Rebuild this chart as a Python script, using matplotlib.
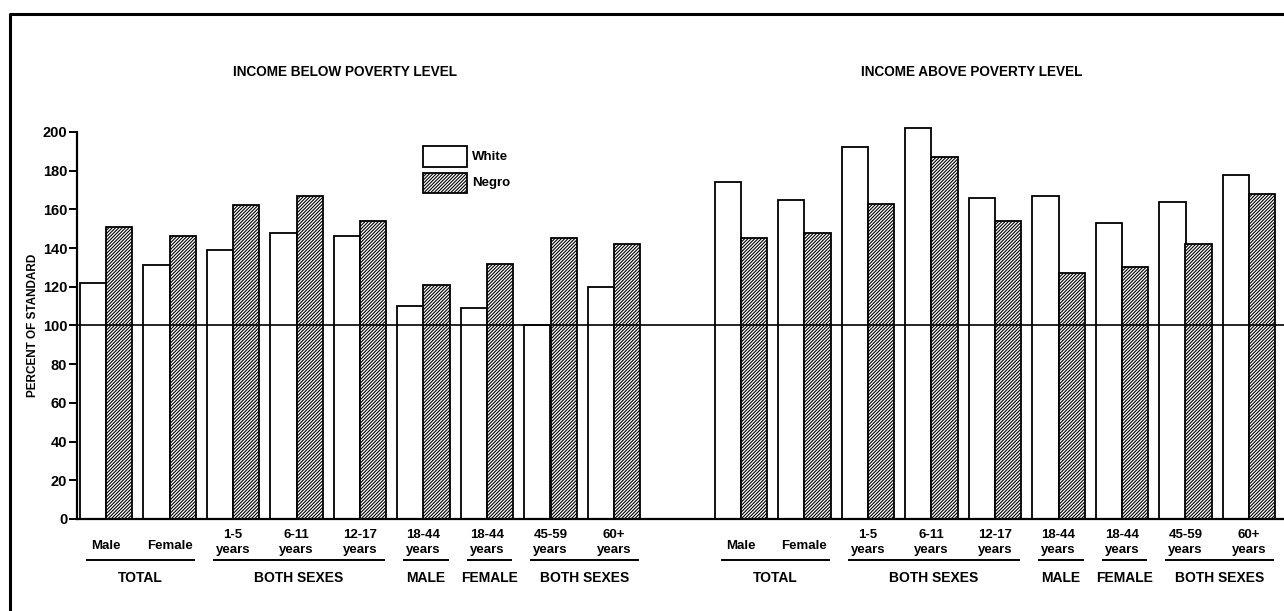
import matplotlib

matplotlib.use("Agg")
import matplotlib.pyplot as plt
import matplotlib.transforms as mtransforms
from matplotlib.patches import Rectangle
import numpy as np

plt.rcParams["font.family"] = ["Liberation Sans", "DejaVu Sans"]
plt.rcParams["hatch.linewidth"] = 0.8

W, H = 1284, 611

# data (percent of standard)
cat_line1 = ["Male", "Female", "1-5", "6-11", "12-17", "18-44", "18-44", "45-59", "60+"]
cat_line2 = ["", "", "years", "years", "years", "years", "years", "years", "years"]
groups = ["TOTAL", "BOTH SEXES", "MALE", "FEMALE", "BOTH SEXES"]
group_span = [(0, 1), (2, 4), (5, 5), (6, 6), (7, 8)]

below_white = [122, 131, 139, 148, 146, 110, 109, 100, 120]
below_negro = [151, 146, 162, 167, 154, 121, 132, 145, 142]
above_white = [174, 165, 192, 202, 166, 167, 153, 164, 178]
above_negro = [145, 148, 163, 187, 154, 127, 130, 142, 168]

panel_titles = ["INCOME BELOW POVERTY LEVEL", "INCOME ABOVE POVERTY LEVEL"]

HATCH = "//////////"


def px(x, y):
    return x / W, 1 - y / H


fig = plt.figure(figsize=(W / 100, H / 100), dpi=100)
fig.patch.set_facecolor("white")

ax_bottom = 1 - 519 / H
ax_top = 1 - 112.6 / H
ax = fig.add_axes([77 / W, ax_bottom, 1 - 77 / W, ax_top - ax_bottom])

unit = 63.5
x0 = -(106 - 77) / unit
ax.set_xlim(x0, x0 + (W - 77) / unit)
ax.set_ylim(0, 210)

bw = 0.41
offsets = [0, 10]
for off, white, negro in [(0, below_white, below_negro), (10, above_white, above_negro)]:
    xs = np.arange(len(white)) + off
    ax.bar(xs - bw, white, bw, align="edge", color="white", edgecolor="black", linewidth=1.3)
    ax.bar(xs, negro, bw, align="edge", color="white", edgecolor="black", linewidth=1.3, hatch=HATCH)

ax.axhline(100, color="black", linewidth=1.2)

for side in ["top", "right"]:
    ax.spines[side].set_visible(False)
ax.spines["left"].set_bounds(0, 200)
ax.spines["left"].set_linewidth(1.6)
ax.spines["bottom"].set_linewidth(1.6)
ax.set_yticks(range(0, 201, 20))
ax.tick_params(axis="y", direction="out", length=6, width=1.4, pad=1, labelsize=10.5)
for lab in ax.get_yticklabels():
    lab.set_fontweight("bold")
ax.set_xticks([])

fig.text(*px(33, 325), "PERCENT OF STANDARD", rotation=90, ha="center", va="center",
         fontsize=8.5, fontweight="bold")

trans = mtransforms.blended_transform_factory(ax.transData, fig.transFigure)
for off in offsets:
    for i in range(len(cat_line1)):
        if cat_line2[i]:
            ax.text(i + off, px(0, 535)[1], cat_line1[i], transform=trans, ha="center", va="center",
                    fontsize=9.5, fontweight="bold")
            ax.text(i + off, px(0, 550)[1], cat_line2[i], transform=trans, ha="center", va="center",
                    fontsize=9.5, fontweight="bold")
        else:
            ax.text(i + off, px(0, 546)[1], cat_line1[i], transform=trans, ha="center", va="center",
                    fontsize=9.5, fontweight="bold")
    for name, (a, b) in zip(groups, group_span):
        ax.plot([a + off - 0.3, b + off + 0.38], [px(0, 560)[1]] * 2, transform=trans,
                color="black", linewidth=1.4, clip_on=False)
        ax.text((a + b) / 2 + off + 0.04, px(0, 578)[1], name, transform=trans, ha="center",
                va="center", fontsize=10, fontweight="bold")

for cx, title in zip([345, 972], panel_titles):
    fig.text(*px(cx, 72), title, ha="center", va="center", fontsize=9.8, fontweight="bold")

# legend boxes
fig.add_artist(Rectangle(px(423, 167), 44 / W, 21 / H, transform=fig.transFigure,
                         facecolor="white", edgecolor="black", linewidth=1.3))
fig.add_artist(Rectangle(px(423, 193), 44 / W, 20 / H, transform=fig.transFigure,
                         facecolor="white", edgecolor="black", linewidth=1.3, hatch=HATCH))
fig.text(*px(472, 157), "White", ha="left", va="center", fontsize=9.5, fontweight="bold")
fig.text(*px(472, 183), "Negro", ha="left", va="center", fontsize=9.5, fontweight="bold")

# page border
fig.add_artist(plt.Line2D([10 / W, 10 / W, 1], [0, 1 - 14 / H, 1 - 14 / H],
                          transform=fig.transFigure, color="black", linewidth=2.2))

fig.savefig("out.png", dpi=100)
